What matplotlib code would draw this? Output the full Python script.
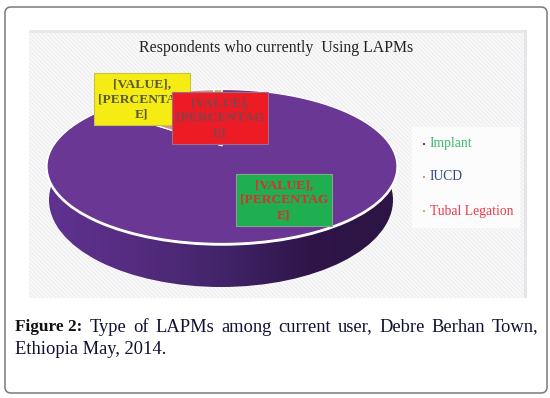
import numpy as np
import matplotlib
matplotlib.use('Agg')
import matplotlib.pyplot as plt
from matplotlib.colors import LinearSegmentedColormap
from matplotlib.patches import Ellipse, FancyBboxPatch, Rectangle

categories = ['Implant', 'IUCD', 'Tubal Legation']
values = [85, 14, 1]
slice_colors = ['#6b3794', '#d98f86', '#a9c463']
legend_colors = ['#3dbb6a', '#2f4a80', '#ee3a4a']
label_text = '[VALUE],\n[PERCENTAG\nE]'
title = 'Respondents who currently  Using LAPMs'
caption_words = 'Type of LAPMs among current user, Debre Berhan Town,'.split()

plt.rcParams['font.family'] = ['Liberation Serif', 'DejaVu Serif']
plt.rcParams['hatch.linewidth'] = 0.6

fig = plt.figure(figsize=(5.5, 3.98), dpi=100)
ax = fig.add_axes([0, 0, 1, 1])
ax.set_xlim(0, 550)
ax.set_ylim(398, 0)
ax.axis('off')

# outer card
ax.add_patch(FancyBboxPatch((10, 12), 532, 376, boxstyle='round,pad=5,rounding_size=6',
                            fc='white', ec='#7a7a7a', lw=1.1))

# chart background with diagonal stripes
ax.add_patch(Rectangle((29, 30), 498, 268, fc='#f9f9fa', ec='#ebebee', lw=0, hatch='\\\\\\\\\\\\\\\\', zorder=1))
ax.add_patch(Rectangle((29, 30), 498, 3, fc='#e8e8e8', ec='none', zorder=1.1))
ax.add_patch(Rectangle((524, 30), 3, 268, fc='#e6e6e8', ec='none', zorder=1.1))
ax.text(276.5, 48, title, ha='center', va='center', fontsize=11.4, color='#222222', zorder=6)

# side of the pie
cx, cy, rx, ry = 222, 166.5, 175, 77
side = Ellipse((221, 200), 344, 174, fc='none', ec='none', zorder=2)
ax.add_patch(side)
side_cmap = LinearSegmentedColormap.from_list('side', ['#5f3290', '#552c80', '#42246a', '#2f1548', '#2c1444'])
im = ax.imshow(np.linspace(0, 1, 256)[None, :], extent=(47, 397, 300, 150), cmap=side_cmap,
               aspect='auto', zorder=2)
im.set_clip_path(side)
ax.set_xlim(0, 550)
ax.set_ylim(398, 0)

ax.add_patch(Ellipse((cx, cy + 1), 2 * rx + 3, 2 * ry + 2.5, fc='white', ec='none', zorder=3))

# top of the pie: the perspective moves the apex above the ellipse centre
k = 0.27


def project(u, v):
    d = 1 + k * v
    return cx + rx * u * np.sqrt(1 - k ** 2) / d, cy - ry * (v + k) / d


edges = np.cumsum([0] + values) / sum(values) * 2 * np.pi
apex_x, apex_y = project(0.0, 0.0)
for start, stop, color in zip(edges[:-1], edges[1:], slice_colors):
    theta = np.linspace(start, stop, 200)
    xs, ys = project(np.sin(theta), np.cos(theta))
    ax.fill(np.r_[apex_x, xs], np.r_[apex_y, ys], fc=color, ec='white', lw=0.9, zorder=4)

# data labels, in drawing order
boxes = [(94, 73, '#f5ec14', '#5a5a3a', '#c9c440'),
         (236, 174, '#1fae50', '#d8322f', '#7fa58c'),
         (172, 92, '#ed1c24', '#7d4450', '#a06a8a')]
for n, (x, y, fc, tc, ec) in enumerate(boxes):
    ax.add_patch(Rectangle((x, y), 96, 52, fc=fc, ec=ec, lw=0.8, zorder=5 + n * 0.1))
    ax.text(x + 48, y + 26, label_text, ha='center', va='center', fontsize=9.7, fontweight='bold',
            color=tc, linespacing=1.35, zorder=5.05 + n * 0.1)

# legend
ax.add_patch(Rectangle((412, 127), 108, 101, fc='white', ec='none', alpha=0.75, zorder=5))
for y, name, tc, mc in zip([144, 177, 211], categories, legend_colors, slice_colors):
    ax.scatter([423.5], [y], marker='s', s=3.5, color=mc, zorder=6, linewidths=0)
    ax.text(430, y, name, ha='left', va='center', fontsize=9.85, color=tc, zorder=6)

# caption, first line justified out to the right margin
cap_size = 13.3
ax.text(15, 327, 'Figure 2:', ha='left', va='center', fontsize=12.4, fontweight='bold', color='#111111')
fig.canvas.draw()
renderer = fig.canvas.get_renderer()
word_texts = [ax.text(0, 327, w, ha='left', va='center', fontsize=cap_size, color='#111133') for w in caption_words]
widths = [t.get_window_extent(renderer).width for t in word_texts]
gap = (538 - 90 - sum(widths)) / (len(widths) - 1)
x = 90
for t, w in zip(word_texts, widths):
    t.set_x(x)
    x += w + gap
ax.text(15, 350, 'Ethiopia May, 2014.', ha='left', va='center', fontsize=cap_size, color='#111133')

fig.savefig('out.png', dpi=100)
